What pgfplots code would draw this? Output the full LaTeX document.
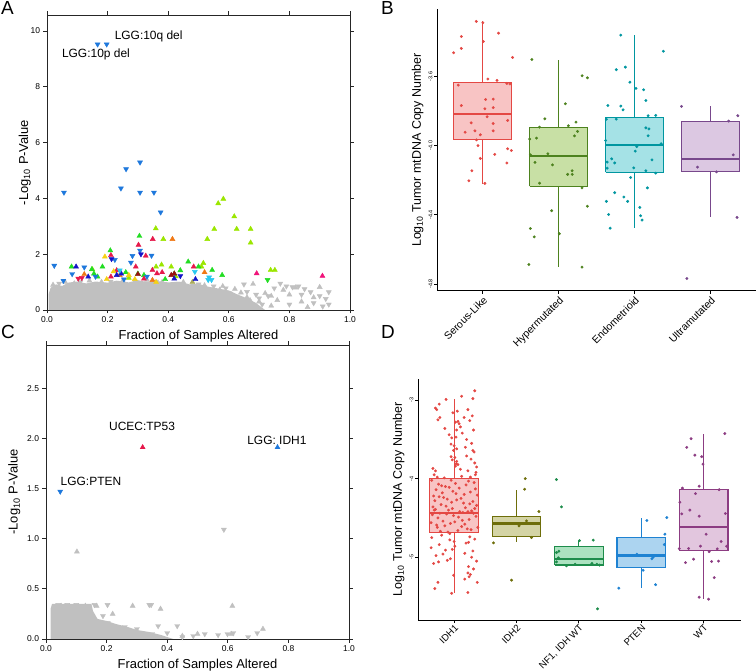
\documentclass[border=0pt]{standalone}
\usepackage{fontspec}
\setmainfont{Liberation Sans}
\usepackage{pgfplots}
\pgfplotsset{compat=1.18}

\definecolor{lgg}{RGB}{30,120,220}
\definecolor{dblue}{RGB}{20,20,200}
\definecolor{cyanp}{RGB}{40,200,240}
\definecolor{limep}{RGB}{155,230,0}
\definecolor{greenp}{RGB}{34,221,34}
\definecolor{redp}{RGB}{230,25,75}
\definecolor{pinkp}{RGB}{240,20,122}
\definecolor{orangep}{RGB}{240,120,20}
\definecolor{yellowp}{RGB}{245,210,20}
\definecolor{dredp}{RGB}{154,16,16}
\definecolor{olivep}{RGB}{170,170,90}
\definecolor{cgray}{RGB}{192,192,192}

\definecolor{bRed}{RGB}{228,72,68}\definecolor{bRedF}{RGB}{248,196,196}
\definecolor{bGrn}{RGB}{77,130,30}\definecolor{bGrnF}{RGB}{200,224,165}
\definecolor{bTeal}{RGB}{0,150,160}\definecolor{bTealF}{RGB}{165,226,230}
\definecolor{bPur}{RGB}{120,72,140}\definecolor{bPurF}{RGB}{220,200,226}
\definecolor{dOl}{RGB}{110,110,10}\definecolor{dOlF}{RGB}{212,212,165}
\definecolor{dGr}{RGB}{30,140,75}\definecolor{dGrF}{RGB}{172,226,192}
\definecolor{dBl}{RGB}{30,130,210}\definecolor{dBlF}{RGB}{172,212,240}
\definecolor{dPu}{RGB}{140,60,130}\definecolor{dPuF}{RGB}{226,198,222}

\pgfplotsset{
  up/.style={only marks, mark=triangle*, mark size=2.9bp, mark options={draw=#1, fill=#1}},
  dn/.style={only marks, mark=triangle*, mark size=2.9bp, mark options={draw=#1, fill=#1, rotate=180}},
  jit/.style={only marks, mark=*, mark size=1.25bp, mark options={draw=#1, fill=#1}},
  scatbox/.style={
    scale only axis, anchor=south west, xmin=0, xmax=1,
    xtick={0,0.2,0.4,0.6,0.8,1},
    xticklabel style={/pgf/number format/.cd, fixed, fixed zerofill, precision=1},
    tick align=outside, tick pos=both, major tick length=3.5bp,
    tick label style={font=\fontsize{8.5}{10}\selectfont},
    label style={font=\fontsize{13}{15}\selectfont},
    xlabel={Fraction of Samples Altered}, ylabel={-Log\textsubscript{10} P-Value},
    axis line style={black!85, line width=0.9bp}, tick style={black!85, line width=0.8bp},
    /pgf/number format/assume math mode=true,
  },
  ggbox/.style={
    scale only axis, anchor=south west,
    axis x line*=bottom, axis y line*=left, axis line style={-, black, line width=1bp},
    tick align=outside, major tick length=3bp, tick style={black, line width=0.8bp},
    x tick label style={rotate=45, anchor=north east, font=\fontsize{10.5}{12}\selectfont, inner sep=1bp},
    y tick label style={rotate=90, anchor=south, font=\fontsize{5.5}{6}\selectfont, inner sep=1.5bp},
    ylabel={Log\textsubscript{10} Tumor mtDNA Copy Number},
    label style={font=\fontsize{12.5}{14}\selectfont},
    /pgf/number format/assume math mode=true,
  },
  bxf/.style 2 args={draw=#1, fill=#2, line width=1.2bp, solid, mark=none, line join=miter},
  bxl/.style={draw=#1, line width=1.2bp, solid, mark=none},
  bxm/.style={draw=#1, line width=2.3bp, solid, mark=none},
}

\begin{document}
\begin{tikzpicture}
\useasboundingbox (0,0) rectangle (756bp,672bp);

% ---------------- Panel A ----------------
\begin{axis}[scatbox, at={(47bp,362bp)}, width=303bp, height=295bp,
  ymin=0, ymax=10.57, ytick={0,2,4,6,8,10}, ylabel shift=-7bp]
\addplot[fill=cgray, draw=none] coordinates {
(0.005,0) (0.005,0.55) (0.012,0.8) (0.03,0.92) (0.05,0.86) (0.07,0.98) (0.1,1.02) (0.13,0.95) (0.16,1.02) (0.2,0.98) (0.23,1.05) (0.27,0.99) (0.3,1.07) (0.33,1.0) (0.36,1.04) (0.4,0.99) (0.44,1.01) (0.47,0.92) (0.5,0.94) (0.53,0.84) (0.56,0.78) (0.6,0.7) (0.63,0.55) (0.66,0.42) (0.69,0.25) (0.71,0.08) (0.72,0)} \closedcycle;
\addplot[up=cgray] coordinates {(0.02,0.9)(0.06,1.0)(0.09,0.95)(0.14,1.05)(0.18,1.0)(0.25,1.05)(0.33,1.08)(0.38,1.0)(0.45,1.0)(0.58,0.85)(0.62,0.75)(0.68,0.93)(0.66,0.45)(0.72,0.6)(0.76,0.35)(0.8,0.55)(0.84,0.3)(0.88,0.45)(0.9,0.82)(0.86,0.1)(0.74,0.15)(0.7,0.3)(0.78,0.72)(0.82,0.8)(0.64,0.62)(0.74,0.5)(0.52,0.88)(0.57,0.72)(0.61,0.55)(0.67,0.35)};
\addplot[dn=cgray] coordinates {(0.04,0.95)(0.11,1.0)(0.21,1.02)(0.29,1.03)(0.36,1.02)(0.43,0.95)(0.5,0.92)(0.55,0.85)(0.65,0.92)(0.6,0.6)(0.63,0.4)(0.77,0.95)(0.79,0.85)(0.81,0.82)(0.87,0.64)(0.93,0.64)(0.93,0.2)(0.91,0.13)(0.83,0.85)(0.85,0.75)(0.75,0.78)(0.69,0.55)(0.71,0.2)(0.73,0.5)(0.8,0.2)(0.88,0.25)(0.9,0.5)(0.67,0.15)(0.92,0.4)(0.84,0.55)(0.59,0.78)(0.66,0.65)(0.7,0.42)};
\addplot[up=limep] coordinates {(0.582,3.98)(0.565,3.82)(0.618,3.35)(0.552,2.90)(0.626,2.90)(0.672,2.90)(0.672,2.41)(0.529,2.54)(0.359,2.92)(0.384,2.54)(0.738,1.43)(0.752,1.43)(0.36,1.55)(0.378,1.62)(0.516,1.68)(0.51,1.55)(0.41,1.55)(0.27,1.15)(0.425,1.2)(0.15,1.45)};
\addplot[up=greenp] coordinates {(0.305,2.65)(0.466,1.73)(0.081,1.55)(0.148,1.46)(0.167,1.19)(0.183,1.55)(0.209,2.13)(0.545,1.43)(0.578,1.25)(0.3,1.3)(0.32,1.25)(0.39,1.1)(0.42,1.3)(0.44,1.42)(0.26,1.35)(0.5,1.55)(0.155,1.3)};
\addplot[dn=greenp] coordinates {(0.728,1.08)};
\addplot[up=redp] coordinates {(0.349,2.54)(0.302,2.33)(0.326,1.94)(0.211,1.96)(0.211,1.19)(0.230,1.42)(0.293,1.55)(0.348,1.43)(0.363,1.31)(0.38,1.35)(0.484,1.55)(0.32,1.12)};
\addplot[dn=redp] coordinates {(0.103,1.13)(0.115,1.15)};
\addplot[up=pinkp] coordinates {(0.692,1.31)(0.909,1.22)};
\addplot[up=orangep] coordinates {(0.414,2.54)(0.123,1.28)(0.348,1.07)(0.52,1.35)(0.24,1.25)};
\addplot[up=yellowp] coordinates {(0.191,1.91)(0.197,1.10)(0.27,1.25)(0.36,1.0)(0.29,1.1)(0.22,1.38)};
\addplot[up=olivep] coordinates {(0.48,1.0)};
\addplot[up=dredp] coordinates {(0.30,1.28)(0.41,1.25)(0.42,1.3)};
\addplot[dn=lgg] coordinates {(0.167,9.52)(0.197,9.52)(0.056,4.21)(0.261,5.05)(0.307,5.29)(0.244,4.36)(0.307,4.21)(0.353,4.21)(0.375,3.50)(0.024,1.59)(0.054,1.05)(0.123,1.53)(0.083,1.29)(0.307,2.13)(0.345,1.95)(0.282,1.94)(0.224,1.80)(0.277,1.70)(0.254,1.10)(0.33,1.2)(0.16,1.2)};
\addplot[dn=dblue] coordinates {(0.31,2.0)(0.213,1.83)(0.44,1.22)};
\addplot[up=dblue] coordinates {(0.096,1.55)(0.136,1.19)(0.23,1.25)(0.42,1.12)(0.49,1.1)(0.245,1.3)};
\addplot[dn=cyanp] coordinates {(0.488,1.37)(0.532,1.08)(0.543,1.08)(0.24,1.42)(0.535,1.17)};
\node[anchor=west, font=\fontsize{12}{14}\selectfont] at (axis cs:0.212,9.82) {LGG:10q del};
\node[anchor=west, font=\fontsize{12}{14}\selectfont] at (axis cs:0.038,9.16) {LGG:10p del};
\end{axis}

% ---------------- Panel C ----------------
\begin{axis}[scatbox, at={(46bp,33bp)}, width=303bp, height=294bp,
  ymin=0, ymax=2.93, ytick={0,0.5,1,1.5,2,2.5},
  yticklabel style={/pgf/number format/.cd, fixed, fixed zerofill, precision=1}]
\addplot[fill=cgray, draw=none] coordinates {
(0.015,0) (0.015,0.30) (0.02,0.35) (0.15,0.35) (0.155,0.28) (0.17,0.2) (0.2,0.18) (0.23,0.15) (0.27,0.12) (0.3,0.09) (0.34,0.07) (0.38,0.04) (0.41,0.01) (0.42,0)} \closedcycle;
\addplot[up=cgray] coordinates {(0.102,0.87)(0.167,0.33)(0.286,0.33)(0.378,0.30)(0.615,0.33)(0.716,0.10)(0.13,0.33)(0.05,0.33)(0.45,0.03)(0.5,0.05)(0.612,0.05)(0.22,0.25)(0.11,0.28)};
\addplot[dn=cgray] coordinates {(0.587,1.09)(0.203,0.34)(0.341,0.34)(0.347,0.34)(0.188,0.23)(0.204,0.16)(0.37,0.13)(0.433,0.13)(0.486,0.03)(0.524,0.05)(0.568,0.04)(0.599,0.05)(0.618,0.06)(0.667,0.02)(0.697,0.06)(0.45,0.02)(0.26,0.12)(0.3,0.1)(0.4,0.06)(0.35,0.05)(0.16,0.34)(0.1,0.34)(0.07,0.34)(0.04,0.34)};
\addplot[up=redp] coordinates {(0.319,1.91)};
\addplot[up=lgg] coordinates {(0.764,1.91)};
\addplot[dn=lgg] coordinates {(0.047,1.47)};
\node[font=\fontsize{12}{14}\selectfont] at (axis cs:0.317,2.12) {UCEC:TP53};
\node[font=\fontsize{12}{14}\selectfont] at (axis cs:0.762,1.98) {LGG: IDH1};
\node[anchor=west, font=\fontsize{12}{14}\selectfont] at (axis cs:0.037,1.57) {LGG:PTEN};
\end{axis}

% ---------------- Panel B ----------------
\begin{axis}[ggbox, at={(437bp,381bp)}, width=319bp, height=282bp,
  xmin=0.4, xmax=4.6, ymin=-4.84, ymax=-3.21,
  xtick={1,2,3,4}, xticklabels={Serous-Like,Hypermutated,Endometrioid,Ultramutated},
  ytick={-4.8,-4.4,-4.0,-3.6},
  yticklabel style={/pgf/number format/.cd, fixed, fixed zerofill, precision=1}]
% Serous-Like
\addplot[bxl=bRed] coordinates {(1,-3.637)(1,-3.282)};
\addplot[bxl=bRed] coordinates {(1,-3.966)(1,-4.220)};
\addplot[bxf={bRed}{bRedF}] coordinates {(0.62,-3.966)(1.38,-3.966)(1.38,-3.637)(0.62,-3.637)(0.62,-3.966)};
\addplot[bxm=bRed] coordinates {(0.62,-3.818)(1.38,-3.818)};
% Hypermutated
\addplot[bxl=bGrn] coordinates {(2,-3.897)(2,-3.504)};
\addplot[bxl=bGrn] coordinates {(2,-4.236)(2,-4.702)};
\addplot[bxf={bGrn}{bGrnF}] coordinates {(1.62,-4.236)(2.38,-4.236)(2.38,-3.897)(1.62,-3.897)(1.62,-4.236)};
\addplot[bxm=bGrn] coordinates {(1.62,-4.061)(2.38,-4.061)};
% Endometrioid
\addplot[bxl=bTeal] coordinates {(3,-3.835)(3,-3.363)};
\addplot[bxl=bTeal] coordinates {(3,-4.155)(3,-4.477)};
\addplot[bxf={bTeal}{bTealF}] coordinates {(2.62,-4.155)(3.38,-4.155)(3.38,-3.835)(2.62,-3.835)(2.62,-4.155)};
\addplot[bxm=bTeal] coordinates {(2.62,-3.995)(3.38,-3.995)};
% Ultramutated
\addplot[bxl=bPur] coordinates {(4,-3.858)(4,-3.773)};
\addplot[bxl=bPur] coordinates {(4,-4.151)(4,-4.415)};
\addplot[bxf={bPur}{bPurF}] coordinates {(3.62,-4.151)(4.38,-4.151)(4.38,-3.858)(3.62,-3.858)(3.62,-4.151)};
\addplot[bxm=bPur] coordinates {(3.62,-4.076)(4.38,-4.076)};
\addplot[jit=bRed] coordinates {(0.917,-3.282)(1.004,-3.29)(1.21,-3.35)(0.72,-3.369)(0.618,-3.463)(0.72,-3.438)(1.01,-3.398)(1.395,-3.49)(1.07,-3.615)(1.19,-3.623)(0.68,-3.65)(1.32,-3.64)(1.36,-3.643)(0.72,-3.768)(1.04,-3.733)(1.14,-3.731)(1.14,-3.78)(1.03,-3.787)(1.06,-3.833)(0.85,-3.868)(1.14,-3.872)(1.33,-3.854)(0.77,-3.922)(0.90,-3.914)(0.97,-3.937)(1.14,-3.914)(0.92,-3.966)(0.94,-4.0)(0.97,-4.074)(1.16,-4.05)(1.33,-4.018)(1.38,-4.028)(1.32,-4.10)(0.86,-4.145)(0.82,-4.203)(1.03,-4.218)};
\addplot[jit=bGrn] coordinates {(1.65,-3.502)(2.31,-3.596)(2.38,-3.608)(2.09,-3.758)(1.82,-3.845)(1.75,-3.893)(2.13,-3.885)(2.23,-3.864)(2.25,-3.918)(2.21,-3.943)(1.62,-3.962)(1.71,-3.956)(1.63,-4.053)(1.86,-4.047)(1.69,-4.097)(1.92,-4.111)(2.18,-4.145)(2.12,-4.166)(2.18,-4.166)(1.75,-4.217)(2.31,-4.244)(2.38,-4.35)(1.91,-4.376)(1.63,-4.479)(1.68,-4.527)(2.01,-4.509)(1.61,-4.687)(2.31,-4.702)};
\addplot[jit=bTeal] coordinates {(2.82,-3.361)(3.38,-3.454)(2.88,-3.546)(2.76,-3.561)(2.94,-3.633)(3.02,-3.669)(3.12,-3.677)(3.15,-3.739)(2.65,-3.768)(2.82,-3.771)(2.85,-3.793)(2.63,-3.847)(2.76,-3.847)(3.18,-3.827)(3.28,-3.825)(3.15,-3.897)(3.19,-3.903)(3.18,-3.943)(2.62,-3.97)(3.35,-3.989)(3.03,-4.005)(3.01,-4.032)(2.70,-4.076)(2.64,-4.095)(2.74,-4.10)(3.23,-4.082)(2.99,-4.128)(2.64,-4.13)(3.15,-4.145)(3.28,-4.159)(2.95,-4.184)(2.74,-4.272)(2.86,-4.297)(2.91,-4.322)(2.63,-4.322)(3.17,-4.244)(2.66,-4.398)(3.07,-4.357)(3.08,-4.405)(3.10,-4.43)(2.68,-4.477)};
\addplot[jit=bPur] coordinates {(3.62,-3.773)(4.24,-3.858)(4.36,-3.827)(4.30,-4.053)(3.83,-4.124)(4.08,-4.151)(4.35,-4.415)(3.69,-4.768)};
\end{axis}

% ---------------- Panel D ----------------
\begin{axis}[ggbox, at={(418bp,52bp)}, width=323bp, height=241bp,
  xmin=0.42, xmax=5.6, ymin=-5.80, ymax=-2.73,
  xtick={1,2,3,4,5}, xticklabels={IDH1,IDH2,{NF1, IDH WT},PTEN,WT},
  x tick label style={font=\fontsize{9.6}{11}\selectfont, inner sep=0.5bp},
  ytick={-5,-4,-3}]
% IDH1
\addplot[bxl=bRed] coordinates {(1,-4.0)(1,-2.98)};
\addplot[bxl=bRed] coordinates {(1,-4.69)(1,-5.46)};
\addplot[bxf={bRed}{bRedF}] coordinates {(0.61,-4.69)(1.39,-4.69)(1.39,-4.0)(0.61,-4.0)(0.61,-4.69)};
\addplot[bxm=bRed] coordinates {(0.61,-4.435)(1.39,-4.435)};
% IDH2
\addplot[bxl=dOl] coordinates {(2,-4.478)(2,-4.138)};
\addplot[bxl=dOl] coordinates {(2,-4.741)(2,-4.81)};
\addplot[bxf={dOl}{dOlF}] coordinates {(1.61,-4.741)(2.39,-4.741)(2.39,-4.478)(1.61,-4.478)(1.61,-4.741)};
\addplot[bxm=dOl] coordinates {(1.61,-4.571)(2.39,-4.571)};
% NF1, IDH WT
\addplot[bxl=dGr] coordinates {(3,-4.868)(3,-4.79)};
\addplot[bxf={dGr}{dGrF}] coordinates {(2.61,-5.10)(3.39,-5.10)(3.39,-4.868)(2.61,-4.868)(2.61,-5.10)};
\addplot[bxm=dGr] coordinates {(2.61,-5.02)(3.39,-5.02)};
% PTEN
\addplot[bxl=dBl] coordinates {(4,-4.75)(4,-4.507)};
\addplot[bxl=dBl] coordinates {(4,-5.136)(4,-5.39)};
\addplot[bxf={dBl}{dBlF}] coordinates {(3.61,-5.136)(4.39,-5.136)(4.39,-4.75)(3.61,-4.75)(3.61,-5.136)};
\addplot[bxm=dBl] coordinates {(3.61,-4.98)(4.39,-4.98)};
% WT
\addplot[bxl=dPu] coordinates {(5,-4.134)(5,-3.433)};
\addplot[bxl=dPu] coordinates {(5,-4.919)(5,-5.535)};
\addplot[bxf={dPu}{dPuF}] coordinates {(4.61,-4.919)(5.39,-4.919)(5.39,-4.134)(4.61,-4.134)(4.61,-4.919)};
\addplot[bxm=dPu] coordinates {(4.61,-4.614)(5.39,-4.614)};
\addplot[jit=bRed] coordinates {
(0.87,-2.99)(1.33,-2.88)(1.12,-2.95)(1.3,-2.98)(0.72,-3.12)(0.76,-3.05)(0.7,-3.1)(0.77,-3.22)(0.74,-3.25)(0.98,-3.16)(1.05,-3.14)(1.22,-3.12)(1.29,-3.2)(1.06,-3.27)(1.08,-3.3)(1.02,-3.28)(1.1,-3.34)(1.04,-3.38)(1.16,-3.22)(1.25,-3.26)(0.92,-3.44)(1.2,-3.5)(0.96,-3.48)(1.03,-3.47)(1.31,-3.38)(1.13,-3.42)(0.85,-3.36)
(0.95,-3.56)(1.0,-3.58)(1.18,-3.6)(1.28,-3.55)(0.99,-3.64)(1.04,-3.62)(1.32,-3.66)(0.95,-3.72)(1.01,-3.73)(1.2,-3.71)(1.27,-3.75)(1.3,-3.64)(0.97,-3.76)(1.04,-3.78)(1.03,-3.81)(1.06,-3.82)(1.02,-3.84)(1.33,-3.8)(1.35,-3.92)(1.34,-3.95)(0.66,-3.87)(0.7,-3.9)(0.73,-3.98)(0.68,-3.95)(1.22,-3.9)(1.1,-3.88)(1.12,-3.97)(0.84,-3.99)(1.26,-3.98)(1.36,-3.85)
(0.64,-4.02)(0.88,-4.45)(1.15,-4.31)(0.73,-4.62)(1.32,-4.05)(0.97,-4.38)(0.81,-4.18)(1.24,-4.52)(0.69,-4.28)(1.06,-4.66)(1.37,-4.21)(0.92,-4.11)(0.77,-4.44)(1.19,-4.08)(1.01,-4.55)(0.66,-4.36)(1.28,-4.41)(0.85,-4.6)(1.11,-4.25)(0.71,-4.14)(1.35,-4.48)(0.95,-4.02)(1.21,-4.64)(0.79,-4.33)(1.03,-4.19)(0.63,-4.56)(1.3,-4.29)(0.9,-4.68)(1.14,-4.43)(0.75,-4.07)(1.26,-4.17)(0.99,-4.47)(0.83,-4.24)(1.17,-4.58)(0.68,-4.4)(1.08,-4.12)(1.38,-4.62)(0.87,-4.35)(1.23,-4.03)(0.74,-4.5)(1.04,-4.27)(0.93,-4.7)(1.33,-4.38)(0.8,-4.09)(1.13,-4.53)(0.67,-4.22)(1.27,-4.65)(0.96,-4.3)(1.09,-4.42)(0.72,-4.59)(1.34,-4.13)(0.89,-4.26)(1.18,-4.37)(0.78,-4.67)(1.02,-4.06)(0.65,-4.46)(1.25,-4.32)(0.94,-4.57)(1.16,-4.2)(0.7,-4.39)(1.12,-4.61)(0.86,-4.1)(1.31,-4.44)(0.76,-4.23)(1.07,-4.49)(0.98,-4.16)(1.22,-4.42)(0.82,-4.54)(1.36,-4.34)(0.91,-4.4)
(0.64,-4.75)(0.8,-4.72)(1.25,-4.74)(1.33,-4.77)(0.93,-4.78)(1.0,-4.8)(1.19,-4.82)(1.23,-4.81)(0.76,-4.84)(1.01,-4.86)(0.63,-4.88)(0.97,-4.9)(1.3,-4.92)(0.86,-4.91)(0.82,-4.96)(0.71,-4.98)(1.17,-4.95)(1.28,-5.0)(0.94,-5.02)(0.89,-5.04)(0.67,-5.08)(1.36,-5.05)(0.75,-5.06)(1.23,-5.12)(1.31,-5.15)(1.22,-5.2)(1.26,-5.22)(0.99,-5.23)(1.17,-5.28)(1.24,-5.25)(0.74,-5.32)(1.37,-5.32)(0.69,-5.4)(0.96,-5.46)(1.22,-5.45)};
\addplot[jit=dOl] coordinates {(2.14,-4.0)(2.13,-4.134)(2.36,-4.418)(2.16,-4.537)(2.04,-4.6)(2.24,-4.749)(1.63,-4.817)(1.92,-5.293)};
\addplot[jit=dGr] coordinates {(2.64,-4.011)(2.72,-4.359)(2.68,-4.924)(2.64,-4.941)(3.23,-4.783)(3.01,-4.79)(2.67,-5.008)(2.64,-5.06)(2.80,-5.11)(2.94,-5.09)(3.21,-5.08)(3.29,-5.09)(3.33,-5.10)(3.30,-5.658)};
\addplot[jit=dBl] coordinates {(4.41,-4.495)(4.09,-4.533)(4.38,-4.707)(4.37,-4.839)(3.93,-4.962)(4.19,-5.0)(4.17,-5.02)(4.03,-5.166)(3.64,-5.395)(4.23,-5.35)};
\addplot[jit=dPu] coordinates {(5.34,-3.425)(4.80,-3.49)(4.73,-3.60)(4.86,-3.70)(4.97,-3.72)(4.99,-3.815)(4.93,-4.096)(4.66,-4.12)(4.87,-4.19)(5.25,-4.14)(4.62,-4.30)(4.78,-4.40)(4.65,-4.448)(4.93,-4.478)(5.35,-4.444)(5.04,-4.707)(4.61,-4.89)(4.76,-4.89)(4.95,-4.86)(5.09,-4.93)(5.28,-4.80)(5.22,-4.894)(5.37,-4.86)(4.84,-5.025)(4.71,-5.07)(5.13,-5.055)(5.24,-5.05)(5.17,-5.26)(4.93,-5.51)(5.08,-5.535)};
\end{axis}

% panel letters
\node[anchor=north west, inner sep=0pt, font=\fontsize{19}{20}\selectfont] at (1bp,671bp) {A};
\node[anchor=north west, inner sep=0pt, font=\fontsize{19}{20}\selectfont] at (381bp,671bp) {B};
\node[anchor=north west, inner sep=0pt, font=\fontsize{19}{20}\selectfont] at (1bp,347bp) {C};
\node[anchor=north west, inner sep=0pt, font=\fontsize{19}{20}\selectfont] at (381bp,347bp) {D};
\end{tikzpicture}
\end{document}
